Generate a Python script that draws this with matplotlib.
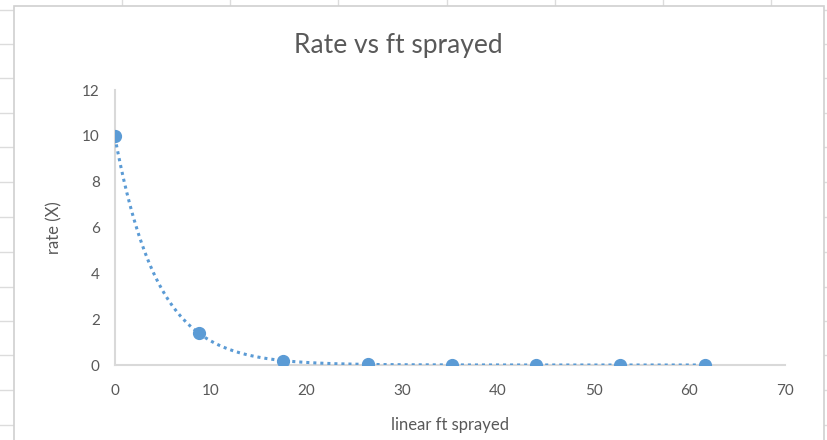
import numpy as np
import matplotlib
matplotlib.use("Agg")
import matplotlib.pyplot as plt
from matplotlib.lines import Line2D
from matplotlib.patches import Rectangle

# data
ft_sprayed = [0, 8.8, 17.6, 26.4, 35.2, 44.0, 52.8, 61.6]
rate = [10, 1.4, 0.19, 0.026, 0.0036, 0.0005, 0.00007, 0.00001]
x_ticks = [0, 10, 20, 30, 40, 50, 60, 70]
y_ticks = [0, 2, 4, 6, 8, 10, 12]

blue = "#5B9BD5"
grey_text = "#595959"
grey_line = "#D9D9D9"

plt.rcParams['font.family'] = ['Lato', 'DejaVu Sans']

W, H = 828, 440
fig = plt.figure(figsize=(W / 100, H / 100), dpi=100)
fig.patch.set_facecolor("white")

# spreadsheet cell grid behind the chart
for px in [122, 230, 338, 447, 555, 663, 771]:
    fig.add_artist(Line2D([px / W, px / W], [1, 0], color="#DCDCDC", lw=1, zorder=-3))
for py in [10, 44, 78, 113, 147, 182, 217, 252, 287, 321, 355, 390, 425]:
    fig.add_artist(Line2D([0, 1], [1 - py / H, 1 - py / H], color="#DCDCDC", lw=1, zorder=-3))

# chart area
fig.add_artist(Rectangle((14 / W, -0.01), (824 - 14) / W, 1 - 6 / H + 0.01,
                         transform=fig.transFigure, facecolor="white",
                         edgecolor="#D0D0D0", lw=1.2, zorder=-2))

ax = fig.add_axes([115 / W, (H - 365) / H, (785 - 115) / W, (365 - 90) / H])
ax.set_facecolor("none")

# exponential trendline (excel default dotted style)
b, a = np.polyfit(ft_sprayed, np.log(rate), 1)
xs = np.linspace(min(ft_sprayed), max(ft_sprayed), 400)
ax.plot(xs, np.exp(a + b * xs), color=blue, lw=2.2, linestyle=(0, (1, 1.3)), zorder=3)
ax.plot(ft_sprayed, rate, "o", color=blue, markersize=8.5, zorder=4)

ax.set_xlim(0, 70)
ax.set_ylim(0, 12)
ax.set_xticks(x_ticks)
ax.set_yticks(y_ticks)
ax.tick_params(axis="y", length=0, labelsize=11, colors=grey_text, pad=11)
ax.tick_params(axis="x", length=0, labelsize=11, colors=grey_text, pad=14)

for s in ["top", "right"]:
    ax.spines[s].set_visible(False)
for s in ["left", "bottom"]:
    ax.spines[s].set_color(grey_line)
    ax.spines[s].set_linewidth(1.5)

ax.set_xlabel("linear ft sprayed", fontsize=12, color=grey_text, labelpad=13)
ax.set_ylabel("rate (X)", fontsize=12, color=grey_text, labelpad=14)

fig.text(398 / W, 1 - 45 / H, "Rate vs ft sprayed", ha="center", va="center",
         fontsize=19, color=grey_text)

fig.savefig("out.png", dpi=100)
